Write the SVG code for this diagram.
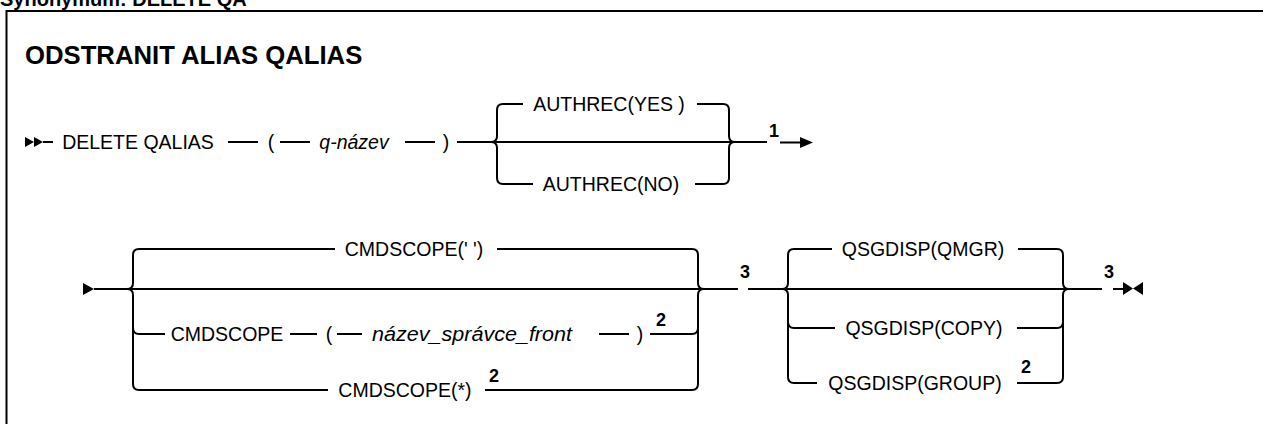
<svg xmlns="http://www.w3.org/2000/svg" width="1263" height="424" viewBox="0 0 1263 424">
<style>
.t{font-family:"Liberation Sans",Arial,sans-serif;font-size:19.5px;fill:#000;text-anchor:middle}
.i{font-style:italic}
.s{text-anchor:start}
.n{font-family:"Liberation Sans",Arial,sans-serif;font-size:18px;font-weight:bold;fill:#000;text-anchor:middle}
.h{font-family:"Liberation Sans",Arial,sans-serif;font-weight:bold;fill:#000}
.l{fill:none;stroke:#000;stroke-width:2}
.m{fill:#000;stroke:none}
</style>
<rect width="1263" height="424" fill="#fff"/>
<text class="h" x="0" y="6" font-size="20">Synonymum: DELETE QA</text>
<path class="l" d="M6.5,11 H1263 M6.5,10 V424" stroke-width="2.5"/>
<text class="h" x="25" y="64" font-size="25.7">ODSTRANIT ALIAS QALIAS</text>

<g id="connectors">
  <!-- row 1 -->
  <polygon class="m" points="25,137 34,142 25,147"/>
  <polygon class="m" points="34,137 43,142 34,147"/>
  <path class="l" d="M43,142 H53 M228,142 H258 M280,142 H310 M405,142 H435 M457,142 H767"/>
  <path class="l" d="M491,142 Q497,142 497,136 V110 Q497,104 503,104 H523 M697,104 H723 Q729,104 729,110 V136 Q729,142 735,142"/>
  <path class="l" d="M491,142 Q497,142 497,148 V178 Q497,184 503,184 H533 M695,184 H723 Q729,184 729,178 V148 Q729,142 735,142"/>
  <path class="l" d="M780,142.5 H801"/>
  <polygon class="m" points="800,137 813,142.5 800,148"/>
  <!-- row 2 -->
  <polygon class="m" points="83,283 94,289 83,295"/>
  <path class="l" d="M94,289 H738 M748,289 H1102 M1113,289 H1123"/>
  <path class="l" d="M127,289 Q133,289 133,283 V255 Q133,249 139,249 H335 M497,249 H692 Q698,249 698,255 V283 Q698,289 704,289"/>
  <path class="l" d="M127,289 Q133,289 133,295 V384 Q133,390 139,390 H328 M485,390 H692 Q698,390 698,384 V295 Q698,289 704,289"/>
  <path class="l" d="M133,328 Q133,334 139,334 H165 M290,334 H317 M337,334 H362 M599,334 H629 M650,334 H692 Q698,334 698,328"/>
  <path class="l" d="M782,289 Q788,289 788,283 V255 Q788,249 794,249 H832 M1018,249 H1057 Q1063,249 1063,255 V283 Q1063,289 1069,289"/>
  <path class="l" d="M782,289 Q788,289 788,295 V377 Q788,383 794,383 H817 M1017,383 H1057 Q1063,383 1063,377 V295 Q1063,289 1069,289"/>
  <path class="l" d="M788,322 Q788,328 794,328 H835 M1017,328 H1057 Q1063,328 1063,322"/>
  <polygon class="m" points="1123,282 1133,288.5 1123,295"/>
  <polygon class="m" points="1143,282 1133,288.5 1143,295"/>
</g>

<g id="n-delete"><text class="t" x="138" y="149">DELETE QALIAS</text></g>
<g id="n-lparen1"><text class="t" x="271" y="149">(</text></g>
<g id="n-qname"><text class="t i" x="354" y="149">q-název</text></g>
<g id="n-rparen1"><text class="t" x="446" y="149">)</text></g>
<g id="n-authyes"><text class="t" x="609" y="111">AUTHREC(YES )</text></g>
<g id="n-authno"><text class="t" x="611" y="191">AUTHREC(NO)</text></g>
<g id="n-note1"><text class="n" x="774" y="137">1</text></g>

<g id="n-cmdblank"><text class="t" x="414" y="256">CMDSCOPE(' ')</text></g>
<g id="n-cmdscope"><text class="t" x="227" y="341">CMDSCOPE</text></g>
<g id="n-lparen2"><text class="t" x="329" y="341">(</text></g>
<g id="n-qmgrname"><text class="t i s" x="372" y="341" textLength="200" lengthAdjust="spacingAndGlyphs">název_správce_front</text></g>
<g id="n-rparen2"><text class="t" x="640" y="341">)</text></g>
<g id="n-note2a"><text class="n" x="661" y="326">2</text></g>
<g id="n-cmdstar"><text class="t" x="405" y="397">CMDSCOPE(*)</text></g>
<g id="n-note2b"><text class="n" x="494" y="382">2</text></g>
<g id="n-note3a"><text class="n" x="745" y="278">3</text></g>

<g id="n-qmgr"><text class="t" x="923" y="256">QSGDISP(QMGR)</text></g>
<g id="n-copy"><text class="t" x="924" y="335">QSGDISP(COPY)</text></g>
<g id="n-group"><text class="t" x="915" y="390">QSGDISP(GROUP)</text></g>
<g id="n-note2c"><text class="n" x="1026" y="373">2</text></g>
<g id="n-note3b"><text class="n" x="1109" y="278">3</text></g>
</svg>
